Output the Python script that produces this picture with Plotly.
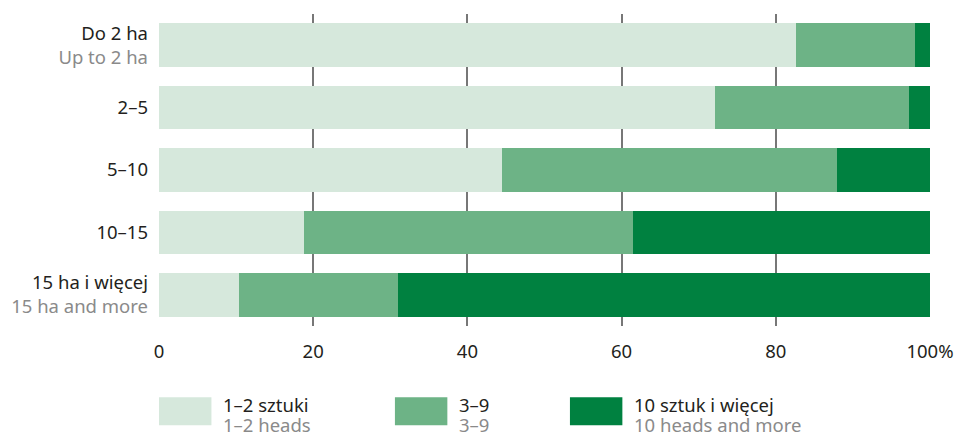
import plotly.graph_objects as go

# categories (top to bottom): Polish label + English label
cat_pl = ["Do 2 ha", "2–5", "5–10", "10–15", "15 ha i więcej"]
cat_en = ["Up to 2 ha", "", "", "", "15 ha and more"]

# share of farms by herd size, %
share_1_2 = [82.6, 72.1, 44.5, 18.8, 10.4]
share_3_9 = [15.5, 25.2, 43.4, 42.7, 20.6]
share_10p = [1.9, 3.0, 12.1, 38.5, 69.0]

series_pl = ["1–2 sztuki", "3–9", "10 sztuk i więcej"]
series_en = ["1–2 heads", "3–9", "10 heads and more"]
colors = ["#d6e8dc", "#6db386", "#008140"]

x_ticks = [0, 20, 40, 60, 80, 100]
x_ticktext = ["0", "20", "40", "60", "80", "100%"]

FONT = "Noto Sans"
DARK = "#231f20"
GREY = "#8a8a8a"
FS = 18.5


def cat_label(pl, en):
    if en:
        return f"{pl}<br><span style='color:{GREY}'>{en}</span>"
    return pl


labels = [cat_label(p, e) for p, e in zip(cat_pl, cat_en)]

fig = go.Figure()
for vals, name, col in zip([share_1_2, share_3_9, share_10p], series_pl, colors):
    fig.add_trace(go.Bar(
        y=labels,
        x=vals,
        orientation="h",
        name=name,
        marker=dict(color=col, line=dict(width=0)),
        width=0.7,
        showlegend=False,
    ))

# custom legend below the plot (swatch + two text lines)
sw_x = [0.0, 0.306, 0.533]
for i, (pl, en, col) in enumerate(zip(series_pl, series_en, colors)):
    x0 = sw_x[i]
    fig.add_shape(
        type="rect", xref="paper", yref="paper",
        x0=x0, x1=x0 + 0.068, y0=-0.318, y1=-0.228,
        fillcolor=col, line=dict(width=0),
    )
    fig.add_annotation(
        xref="paper", yref="paper", x=x0 + 0.08, y=-0.251,
        xanchor="left", yanchor="middle", showarrow=False,
        text=pl, font=dict(family=FONT, size=FS, color=DARK),
    )
    fig.add_annotation(
        xref="paper", yref="paper", x=x0 + 0.08, y=-0.316,
        xanchor="left", yanchor="middle", showarrow=False,
        text=en, font=dict(family=FONT, size=FS, color=GREY),
    )

fig.update_layout(
    barmode="stack",
    width=954,
    height=434,
    margin=dict(l=159, r=24, t=14, b=108),
    paper_bgcolor="white",
    plot_bgcolor="white",
    font=dict(family=FONT, size=FS, color=DARK),
    bargap=0.3,
    xaxis=dict(
        range=[0, 100],
        tickvals=x_ticks,
        ticktext=x_ticktext,
        showgrid=True,
        gridcolor="#777777",
        gridwidth=1.5,
        zeroline=False,
        showline=False,
        ticks="",
        ticklabelstandoff=12,
        tickfont=dict(size=FS, color=DARK),
        automargin=False,
        fixedrange=True,
    ),
    yaxis=dict(
        autorange="reversed",
        showgrid=False,
        ticks="",
        ticklabelstandoff=10,
        tickfont=dict(size=FS, color=DARK),
        automargin=False,
        fixedrange=True,
    ),
)

fig.write_html(
    "out.html",
    config={"displayModeBar": False},
    post_script="document.body.style.margin='0';",
)
